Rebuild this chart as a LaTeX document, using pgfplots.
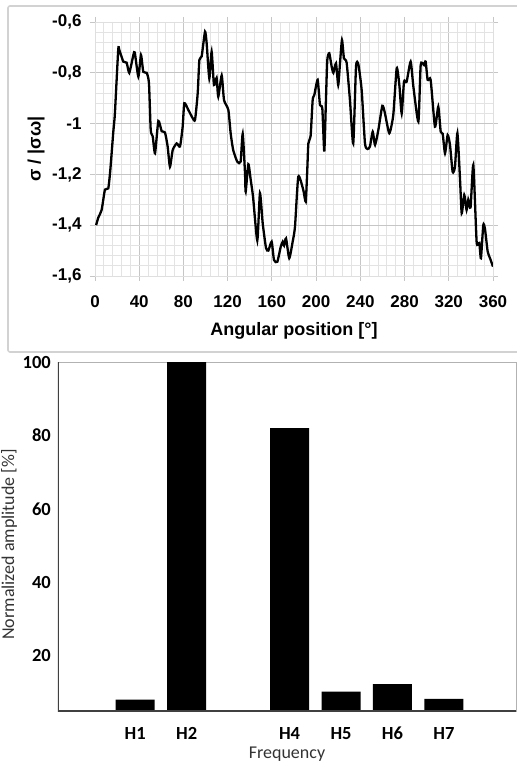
\documentclass[border=0pt]{standalone}
\usepackage{fontspec}
\setmainfont{Liberation Sans}
\newfontfamily\carlito{Carlito}
\usepackage{pgfplots}
\pgfplotsset{compat=1.18}

\begin{document}
\begin{tikzpicture}[x=1pt,y=1pt]
\useasboundingbox (0,0) rectangle (517,769);
% frame around the stress profile
\draw[gray!35, line width=1.6pt, rounded corners=2pt] (8,763) rectangle (530,417);

% ---------- stress along the circumference ----------
\begin{axis}[
  at={(95pt,493pt)}, anchor=south west,
  width=398pt, height=254pt, scale only axis,
  xmin=0, xmax=360, ymin=-1.6, ymax=-0.6,
  xtick={0,40,...,360}, ytick={-1.6,-1.4,-1.2,-1,-0.8,-0.6},
  minor x tick num=4, minor y tick num=4,
  grid=both,
  major grid style={gray!45, line width=0.8pt},
  minor grid style={gray!22, line width=0.8pt},
  axis line style={draw=gray!25, line width=0.8pt},
  tick align=outside, major tick length=5pt, minor tick length=0pt,
  tick style={gray!45, line width=0.8pt},
  /pgf/number format/assume math mode=true,
  /pgf/number format/use comma,
  ticklabel style={font=\fontsize{17}{20}\selectfont\bfseries},
  xticklabel style={yshift=-11pt},
  yticklabel style={xshift=-5pt},
  xlabel={Angular position [°]},
  ylabel={σ / |σω|},
  label style={font=\fontsize{18}{21}\selectfont\bfseries},
  xlabel style={at={(axis description cs:0.5,-0.2165)}, anchor=center},
  ylabel style={at={(axis description cs:-0.148,0.5)}, anchor=center},
]
\addplot[black, line width=2.3pt, smooth, tension=0.35] coordinates {
(1,-1.40) (3,-1.37) (6,-1.34) (9,-1.26) (12,-1.255) (13.9,-1.18)
(16.6,-1.03) (18,-0.96) (21,-0.71) (22,-0.71) (25.6,-0.756) (28.6,-0.76)
(31,-0.80) (34.7,-0.73) (36,-0.72) (39.2,-0.815) (41.6,-0.73) (43.7,-0.796)
(46.7,-0.80) (48.8,-0.84) (50.4,-1.025) (52.2,-1.05) (54.3,-1.117) (57.3,-0.99)
(60.3,-1.03) (63.3,-1.035) (65.7,-1.09) (67.8,-1.17) (70.3,-1.104) (73.9,-1.078)
(76.9,-1.09) (79.3,-1.012) (80.8,-0.92) (84.4,-0.946) (88.4,-0.979) (90.5,-0.985)
(92.9,-0.88) (94.4,-0.75) (96.5,-0.735) (99.5,-0.638) (101,-0.684) (103.4,-0.822)
(105.5,-0.717) (107.6,-0.848) (110,-0.82) (111.5,-0.894) (114.6,-0.81) (116.7,-0.907)
(120.6,-0.946) (122.7,-1.038) (125,-1.104) (128.7,-1.15) (131.7,-1.15) (133.6,-1.04)
(135.7,-1.196) (136.3,-1.268) (138.7,-1.16) (140.8,-1.22) (143,-1.29) (146.8,-1.46)
(149.2,-1.274) (151.7,-1.393) (154.7,-1.49) (156.8,-1.50) (159.8,-1.465) (161.9,-1.537)
(164.9,-1.544) (168,-1.485) (169.8,-1.465) (171,-1.48) (172.8,-1.452) (175.7,-1.53)
(178.8,-1.465) (180.9,-1.406) (183.9,-1.209) (188.4,-1.261) (190.6,-1.307) (192,-1.183)
(193,-1.078) (195,-1.05) (196.9,-0.907) (198.4,-0.887) (201.4,-0.828) (203.5,-0.927)
(205.6,-0.94) (207.4,-1.11) (208.9,-0.907) (210.1,-0.75) (211.9,-0.723) (214.1,-0.776)
(215.6,-0.80) (218,-0.763) (220,-0.848) (221.6,-0.763) (223.4,-0.671) (225.2,-0.743)
(227.6,-0.76) (230.6,-0.907) (233.6,-1.078) (236.1,-0.776) (238.2,-0.767) (241.2,-0.868)
(244.2,-1.078) (246.6,-1.10) (248.7,-1.09) (251.2,-1.032) (253.3,-1.084) (256.3,-1.025)
(259.9,-0.93) (262.3,-0.96) (266.2,-1.038) (269.8,-0.966) (272.9,-0.782) (275.3,-0.848)
(277.4,-0.96) (279.5,-0.835) (281.9,-0.835) (285.5,-0.756) (288,-0.855) (292.5,-0.992)
(294.6,-0.769) (297.6,-0.769) (299.1,-0.756) (300.9,-0.828) (303.6,-0.828) (307.5,-1.012)
(310.5,-0.933) (312.7,-1.032) (314.5,-1.04) (316.6,-1.117) (319,-1.045) (321.1,-1.084)
(323.5,-1.19) (325.6,-1.17) (327.8,-1.038) (330.2,-1.222) (331.7,-1.353) (334,-1.281)
(336.1,-1.34) (337.6,-1.30) (339.7,-1.33) (342.2,-1.163) (345.2,-1.465) (347.6,-1.47)
(349.1,-1.53) (351.2,-1.40) (352.7,-1.413) (355.2,-1.504) (357.3,-1.53) (360,-1.563)
};
\end{axis}

% ---------- harmonic spectrum ----------
\begin{axis}[
  at={(58pt,58pt)}, anchor=south west,
  width=458pt, height=349pt, scale only axis,
  xmin=-0.5, xmax=8.4, ymin=5, ymax=100,
  ytick={20,40,60,80,100},
  xtick={1,2,4,5,6,7},
  xticklabels={H1,H2,H4,H5,H6,H7},
  major tick length=0pt,
  axis line style={draw=gray!60, line width=0.8pt},
  /pgf/number format/assume math mode=true,
  ticklabel style={font=\carlito\fontsize{18.5}{20}\selectfont\bfseries, inner sep=0pt},
  xticklabel style={anchor=base, yshift=-28pt},
  yticklabel style={anchor=east, xshift=-7pt},
  xlabel={Frequency},
  ylabel={Normalized amplitude [\%]},
  label style={font=\carlito\fontsize{18}{21}\selectfont, text=black!80, inner sep=0pt},
  xlabel style={at={(axis description cs:0.5,-0.1375)}, anchor=base},
  ylabel style={at={(axis description cs:-0.107,0.477)}, anchor=center},
]
\addplot[ybar, bar width=0.758, fill=black, draw=none] coordinates {
(1,8.1) (2,100) (4,82) (5,10.3) (6,12.3) (7,8.3)
};
\draw[black!75, line width=1.3pt] (rel axis cs:0,1) -- (rel axis cs:0,0) -- (rel axis cs:1,0);
\end{axis}
\end{tikzpicture}
\end{document}
